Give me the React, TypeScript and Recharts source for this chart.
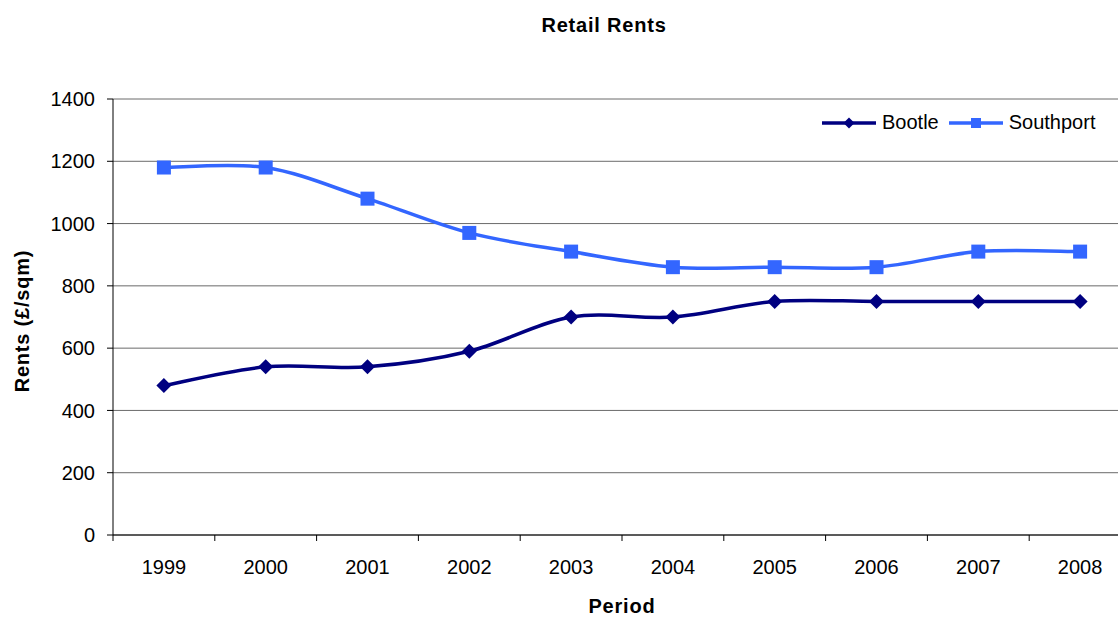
import { LineChart, Line, XAxis, YAxis, CartesianGrid, Legend, Label } from 'recharts';

const YEARS = ['1999', '2000', '2001', '2002', '2003', '2004', '2005', '2006', '2007', '2008'];
const BOOTLE = [480, 540, 540, 590, 700, 700, 750, 750, 750, 750];
const SOUTHPORT = [1180, 1180, 1080, 970, 910, 860, 860, 860, 910, 910];
const Y_TICKS = [0, 200, 400, 600, 800, 1000, 1200, 1400];

const FONT = '"Liberation Sans", Arial, sans-serif';
const BOOTLE_COLOR = '#000080';
const SOUTHPORT_COLOR = '#3366FF';

// x sits in the middle of each year band, so tick marks can fall on the band edges
const data = YEARS.map((year, i) => ({
  x: i + 0.5,
  year,
  bootle: BOOTLE[i],
  southport: SOUTHPORT[i],
}));
const X_TICKS = [...YEARS.flatMap((_, i) => [i, i + 0.5]), YEARS.length];

// Excel-style smoothed line (Catmull-Rom as cubic beziers)
const excelSmooth = (context: any) => {
  let pts: number[][] = [];
  return {
    areaStart() {},
    areaEnd() {},
    lineStart() {
      pts = [];
    },
    point(x: number, y: number) {
      pts.push([+x, +y]);
    },
    lineEnd() {
      const n = pts.length;
      if (!n) return;
      context.moveTo(pts[0][0], pts[0][1]);
      for (let i = 0; i < n - 1; i++) {
        const p0 = pts[Math.max(i - 1, 0)];
        const p1 = pts[i];
        const p2 = pts[i + 1];
        const p3 = pts[Math.min(i + 2, n - 1)];
        context.bezierCurveTo(
          p1[0] + (p2[0] - p0[0]) / 6,
          p1[1] + (p2[1] - p0[1]) / 6,
          p2[0] - (p3[0] - p1[0]) / 6,
          p2[1] - (p3[1] - p1[1]) / 6,
          p2[0],
          p2[1]
        );
      }
    },
  };
};

const DiamondDot = (props: any) => {
  const { cx, cy, index } = props;
  if (cx == null || cy == null) return <g key={`d-${index}`} />;
  return (
    <polygon
      key={`d-${index}`}
      points={`${cx},${cy - 7.5} ${cx + 7.5},${cy} ${cx},${cy + 7.5} ${cx - 7.5},${cy}`}
      fill={BOOTLE_COLOR}
    />
  );
};

const SquareDot = (props: any) => {
  const { cx, cy, index } = props;
  if (cx == null || cy == null) return <g key={`s-${index}`} />;
  return <rect key={`s-${index}`} x={cx - 7} y={cy - 7} width={14} height={14} fill={SOUTHPORT_COLOR} />;
};

const XTick = (props: any) => {
  const { x, y, payload } = props;
  const v = payload.value;
  if (Number.isInteger(v)) {
    return <line x1={x} x2={x} y1={y} y2={y + 6} stroke="#000" strokeWidth={1} />;
  }
  return (
    <text x={x} y={y + 32} dy="0.355em" textAnchor="middle" fontSize={20} fontFamily={FONT} fill="#000">
      {YEARS[Math.floor(v)]}
    </text>
  );
};

const SERIES = [
  { key: 'bootle', name: 'Bootle', color: BOOTLE_COLOR },
  { key: 'southport', name: 'Southport', color: SOUTHPORT_COLOR },
];

const LegendContent = () => (
  <div style={{ display: 'flex', alignItems: 'center', fontSize: 20, fontFamily: FONT, color: '#000', lineHeight: '23px' }}>
    {SERIES.map((s) => (
      <div key={s.key} style={{ display: 'flex', alignItems: 'center', marginRight: 10 }}>
        <svg width={54} height={14} style={{ display: 'block' }}>
          <line x1={0} x2={54} y1={7} y2={7} stroke={s.color} strokeWidth={3.5} />
          {s.key === 'bootle' ? (
            <polygon points="27,1.5 32.5,7 27,12.5 21.5,7" fill={s.color} />
          ) : (
            <rect x={22} y={2} width={10} height={10} fill={s.color} />
          )}
        </svg>
        <span style={{ marginLeft: 6 }}>{s.name}</span>
      </div>
    ))}
  </div>
);

export default function App() {
  return (
    <div
      style={{
        position: 'fixed',
        left: 0,
        top: 0,
        width: 1118,
        height: 617,
        overflow: 'hidden',
        background: '#fff',
        fontFamily: FONT,
      }}
    >
      <div
        style={{
          position: 'absolute',
          left: 0,
          top: 15,
          width: 1208,
          textAlign: 'center',
          fontSize: 20,
          lineHeight: '20px',
          fontWeight: 'bold',
          letterSpacing: 0.8,
          color: '#000',
        }}
      >
        Retail Rents
      </div>
      <LineChart
        width={1140}
        height={617}
        data={data}
        margin={{ top: 99, right: 9, left: 0, bottom: 0 }}
        style={{ position: 'absolute', left: 0, top: 0 }}
      >
        <CartesianGrid horizontal vertical={false} stroke="#6a6a6a" />
        <XAxis
          dataKey="x"
          type="number"
          domain={[0, YEARS.length]}
          ticks={X_TICKS}
          interval={0}
          height={82}
          tickLine={false}
          tickSize={0}
          tickMargin={0}
          tick={<XTick />}
          axisLine={{ stroke: '#000', strokeWidth: 1 }}
        >
          <Label
            value="Period"
            position="insideBottom"
            offset={4}
            style={{ fontSize: 20, fontWeight: 'bold', fontFamily: FONT, fill: '#000', letterSpacing: 0.8 }}
          />
        </XAxis>
        <YAxis
          type="number"
          domain={[0, 1400]}
          ticks={Y_TICKS}
          interval={0}
          width={113}
          tickSize={6}
          tickMargin={12}
          tickLine={{ stroke: '#000' }}
          axisLine={{ stroke: '#000', strokeWidth: 1 }}
          tick={{ fontSize: 20, fontFamily: FONT, fill: '#000' }}
        >
          <Label
            value="Rents (£/sqm)"
            angle={-90}
            position="insideLeft"
            offset={22}
            dy={4}
            style={{ fontSize: 20, fontWeight: 'bold', fontFamily: FONT, fill: '#000', textAnchor: 'middle', letterSpacing: 0.8 }}
          />
        </YAxis>
        <Legend
          layout="vertical"
          verticalAlign="middle"
          align="center"
          content={<LegendContent />}
          wrapperStyle={{ left: 822, top: 111, width: 300, height: 23 }}
        />
        <Line
          dataKey="bootle"
          name="Bootle"
          type={excelSmooth as any}
          stroke={BOOTLE_COLOR}
          strokeWidth={3.5}
          dot={DiamondDot}
          activeDot={false}
          isAnimationActive={false}
        />
        <Line
          dataKey="southport"
          name="Southport"
          type={excelSmooth as any}
          stroke={SOUTHPORT_COLOR}
          strokeWidth={3.5}
          dot={SquareDot}
          activeDot={false}
          isAnimationActive={false}
        />
      </LineChart>
    </div>
  );
}
